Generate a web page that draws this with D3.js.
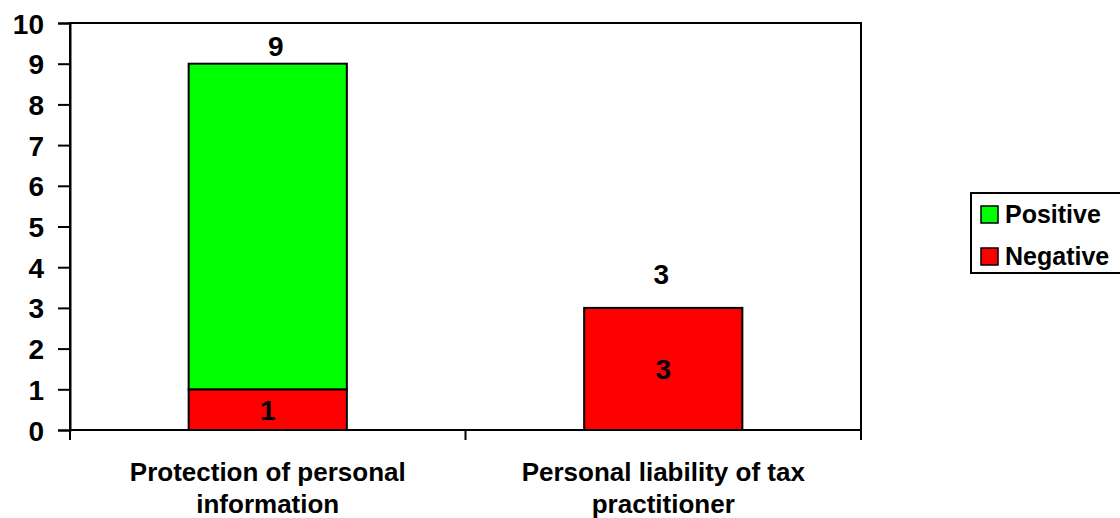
<!doctype html>
<html>
<head>
	<meta charset="UTF-8">
	<script src="https://d3js.org/d3.v7.min.js"></script>
	<style>
		body { margin: 0; background: #fff; }
		text { font-family: "Liberation Sans", Arial, sans-serif; font-weight: bold; fill: #000; }
	</style>
</head>
<body>
	<script>
		// chart data
		var categories = ["Protection of personal information", "Personal liability of tax practitioner"];
		var categoryLines = [["Protection of personal", "information"], ["Personal liability of tax", "practitioner"]];
		var positive = [8, 0];
		var negative = [1, 3];
		var seriesNames = ["Negative", "Positive"];
		var seriesColours = {"Negative": "#ff0000", "Positive": "#00ff00"};
		var yTicks = [0, 1, 2, 3, 4, 5, 6, 7, 8, 9, 10];

		// plot area
		var plotLeft = 70, plotRight = 861, plotTop = 23, plotBottom = 430;

		var svg = d3.select("body")
			.append("svg")
				.attr("width", 1120)
				.attr("height", 518);

		var rows = categories.map(function(c, i) {
			return {cat: c, Negative: negative[i], Positive: positive[i]};
		});

		var x = d3.scaleBand()
			.domain(categories)
			.range([plotLeft, plotRight])
			.paddingInner(0.6)
			.paddingOuter(0.3);

		var y = d3.scaleLinear()
			.domain([0, 10])
			.range([plotBottom, plotTop]);

		var stacked = d3.stack().keys(seriesNames)(rows);

		// bars
		svg.append("g").selectAll("g")
			.data(stacked)
			.enter().append("g")
				.attr("fill", function(d) { return seriesColours[d.key]; })
			.selectAll("rect")
			.data(function(d) { return d.filter(function(p) { return p[1] > p[0]; }); })
			.enter().append("rect")
				.attr("x", function(d) { return x(d.data.cat); })
				.attr("y", function(d) { return y(d[1]); })
				.attr("width", x.bandwidth())
				.attr("height", function(d) { return y(d[0]) - y(d[1]); })
				.attr("stroke", "#000")
				.attr("stroke-width", 2);

		// frame round the plot area
		svg.append("rect")
			.attr("x", plotLeft)
			.attr("y", plotTop)
			.attr("width", plotRight - plotLeft)
			.attr("height", plotBottom - plotTop)
			.attr("fill", "none")
			.attr("stroke", "#000")
			.attr("stroke-width", 2);

		// y axis
		var yAxis = svg.append("g")
			.attr("transform", "translate(" + plotLeft + ",0)")
			.call(d3.axisLeft(y).tickValues(yTicks).tickSize(12).tickPadding(14));
		yAxis.select(".domain").attr("stroke-width", 2);
		yAxis.selectAll(".tick line").attr("stroke-width", 2);
		yAxis.selectAll("text")
			.attr("font-size", 28)
			.attr("font-family", null)
			.attr("dy", "0.36em");

		// x axis ticks at category boundaries
		var bounds = d3.range(categories.length + 1).map(function(i) { return plotLeft + i * x.step(); });
		svg.append("g").selectAll("line")
			.data(bounds)
			.enter().append("line")
				.attr("x1", function(d) { return d; })
				.attr("x2", function(d) { return d; })
				.attr("y1", plotBottom)
				.attr("y2", plotBottom + 10)
				.attr("stroke", "#000")
				.attr("stroke-width", 2);

		// category labels
		svg.append("g").selectAll("text")
			.data(categories)
			.enter().append("text")
				.attr("text-anchor", "middle")
				.attr("font-size", 26)
				.attr("transform", function(d) { return "translate(" + (x(d) + x.bandwidth() / 2) + ",481)"; })
			.selectAll("tspan")
			.data(function(d, i) { return categoryLines[i]; })
			.enter().append("tspan")
				.attr("x", 0)
				.attr("y", function(d, i) { return i * 32; })
				.text(function(d) { return d; });

		// negative segment labels
		svg.append("g").selectAll("text")
			.data(rows)
			.enter().append("text")
				.attr("text-anchor", "middle")
				.attr("font-size", 28)
				.attr("x", function(d) { return x(d.cat) + x.bandwidth() / 2; })
				.attr("y", function(d) { return (y(0) + y(d.Negative)) / 2; })
				.attr("dy", "0.36em")
				.text(function(d) { return d.Negative; });

		// totals above bars (sits higher when the positive part is empty)
		svg.append("g").selectAll("text")
			.data(rows)
			.enter().append("text")
				.attr("text-anchor", "middle")
				.attr("font-size", 28)
				.attr("x", function(d) { return x(d.cat) + x.bandwidth() / 2 + (d.Positive > 0 ? 8 : -2); })
				.attr("y", function(d) { return y(d.Negative + d.Positive) - (d.Positive > 0 ? 8 : 24); })
				.text(function(d) { return d.Negative + d.Positive; });

		// legend
		var legend = svg.append("g").attr("transform", "translate(971,193)");
		legend.append("rect")
			.attr("width", 170)
			.attr("height", 80)
			.attr("fill", "#fff")
			.attr("stroke", "#000")
			.attr("stroke-width", 2);
		var items = legend.selectAll("g.item")
			.data(["Positive", "Negative"])
			.enter().append("g")
				.attr("class", "item")
				.attr("transform", function(d, i) { return "translate(10," + (21 + i * 42) + ")"; });
		items.append("rect")
			.attr("x", 0)
			.attr("y", -8)
			.attr("width", 17)
			.attr("height", 17)
			.attr("fill", function(d) { return seriesColours[d]; })
			.attr("stroke", "#000")
			.attr("stroke-width", 1.5);
		items.append("text")
			.attr("x", 24)
			.attr("dy", "0.36em")
			.attr("font-size", 25)
			.text(function(d) { return d; });
	</script>
</body>
</html>
